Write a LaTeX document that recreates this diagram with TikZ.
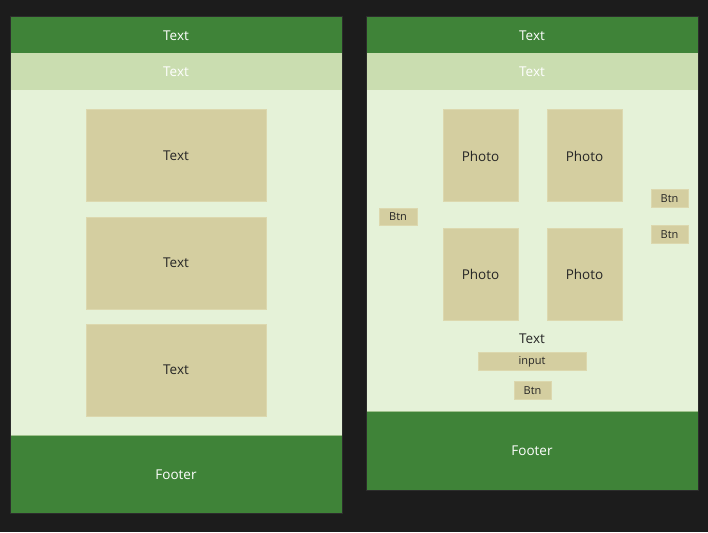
\documentclass[tikz,border=0pt]{standalone}
\usepackage{fontspec}
\setmainfont{Open Sans}
\definecolor{canvas}{HTML}{1C1C1C}
\definecolor{frameedge}{HTML}{2C2C2C}
\definecolor{bar}{HTML}{3F8338}
\definecolor{subbar}{HTML}{CADDB0}
\definecolor{page}{HTML}{E5F2D8}
\definecolor{card}{HTML}{D4CEA0}
\definecolor{cardedge}{HTML}{DCD8AE}
\begin{document}
\begin{tikzpicture}[x=1pt,y=-1pt,
  barbox/.style={fill=bar,draw=none},
  subbox/.style={fill=subbar,draw=none},
  pagebox/.style={fill=page,draw=none},
  cardbox/.style={fill=card,draw=cardedge,line width=0.8pt},
  lighttext/.style={text=white,font=\fontsize{13.5}{15}\selectfont},
  darktext/.style={text=black!85,font=\fontsize{13.5}{15}\selectfont},
  smalltext/.style={text=black!85,font=\fontsize{11}{12}\selectfont}]
\fill[canvas] (0,0) rectangle (708,532);
\useasboundingbox (0,0) rectangle (708,532);

% ---- list screen ----
\fill[pagebox] (10,90) rectangle (342,435);
\fill[barbox] (10,16) rectangle (342,53);
\fill[subbox] (10,53) rectangle (342,90);
\fill[barbox] (10,435) rectangle (342,513);
\draw[subbar!70!bar,line width=0.6pt] (10,435) -- (342,435);
\node[lighttext] (lhead) at (176,35.5) {Text};
\node[lighttext] (lsub) at (176,71.5) {Text};
\node[lighttext] (lfoot) at (176,475) {Footer};
\draw[cardbox] (86,109) rectangle (266,201);
\node[darktext] (lc1) at (176,156) {Text};
\draw[cardbox] (86,217) rectangle (266,309);
\node[darktext] (lc2) at (176,263) {Text};
\draw[cardbox] (86,324) rectangle (266,416);
\node[darktext] (lc3) at (176,370) {Text};
\draw[frameedge,line width=0.6pt] (10,16) rectangle (342,513);

% ---- gallery screen ----
\fill[pagebox] (366,90) rectangle (698,411);
\fill[barbox] (366,16) rectangle (698,53);
\fill[subbox] (366,53) rectangle (698,90);
\fill[barbox] (366,411) rectangle (698,490);
\draw[subbar!70!bar,line width=0.6pt] (366,411) -- (698,411);
\node[lighttext] (rhead) at (532,35.5) {Text};
\node[lighttext] (rsub) at (532,71.5) {Text};
\node[lighttext] (rfoot) at (532,451) {Footer};

\draw[cardbox] (443,109) rectangle (518,201);
\node[darktext] (p1) at (480.5,156) {Photo};
\draw[cardbox] (547,109) rectangle (622,201);
\node[darktext] (p2) at (584.5,156) {Photo};
\draw[cardbox] (443,228) rectangle (518,320);
\node[darktext] (p3) at (480.5,274.5) {Photo};
\draw[cardbox] (547,228) rectangle (622,320);
\node[darktext] (p4) at (584.5,274.5) {Photo};

\draw[cardbox] (379,208) rectangle (417,225);
\node[smalltext] (bl) at (398,217) {Btn};
\draw[cardbox] (651,189) rectangle (688,207);
\node[smalltext] (br1) at (669.5,198.5) {Btn};
\draw[cardbox] (651,225) rectangle (688,243);
\node[smalltext] (br2) at (669.5,234.5) {Btn};

\node[darktext] (rtxt) at (532,338.5) {Text};
\draw[cardbox] (478,352) rectangle (586,370);
\node[smalltext] (inp) at (532,361.5) {input};
\draw[cardbox] (514,381) rectangle (551,399);
\node[smalltext] (bb) at (532.5,390.5) {Btn};
\draw[frameedge,line width=0.6pt] (366,16) rectangle (698,490);
\end{tikzpicture}
\end{document}
